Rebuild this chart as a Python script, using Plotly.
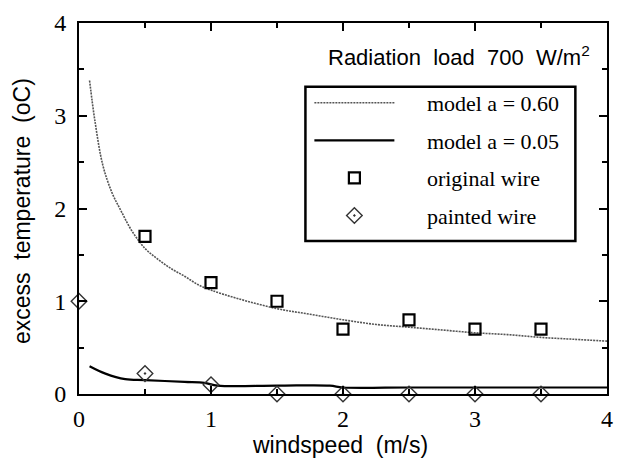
import plotly.graph_objects as go

# Model curves
model060_x = [0.08, 0.12, 0.18, 0.25, 0.32, 0.40, 0.50, 0.60, 0.70, 0.80, 0.90, 1.00, 1.20, 1.50,
              1.75, 2.00, 2.25, 2.50, 2.75, 3.00, 3.25, 3.50, 3.75, 4.00]
model060_y = [3.38, 2.95, 2.47, 2.17, 1.97, 1.76, 1.57, 1.45, 1.35, 1.27, 1.18, 1.12, 1.03, 0.92,
              0.86, 0.80, 0.75, 0.72, 0.69, 0.66, 0.64, 0.61, 0.59, 0.57]
model005_x = [0.08, 0.20, 0.35, 0.50, 0.80, 0.95, 1.05, 1.50, 1.90, 2.00, 2.50, 3.00, 3.50, 4.00]
model005_y = [0.30, 0.22, 0.16, 0.15, 0.13, 0.12, 0.09, 0.09, 0.09, 0.07, 0.07, 0.07, 0.07, 0.07]

# Measurements
orig_x = [0.5, 1.0, 1.5, 2.0, 2.5, 3.0, 3.5]
orig_y = [1.7, 1.2, 1.0, 0.7, 0.8, 0.7, 0.7]
paint_x = [0.0, 0.5, 1.0, 1.5, 2.0, 2.5, 3.0, 3.5]
paint_y = [1.0, 0.22, 0.1, 0.0, 0.0, 0.0, 0.0, 0.0]

tick_vals = [0, 1, 2, 3, 4]
tick_text = ["0", "1", "2", "3", "4"]

pad = "\u00a0" * 5

fig = go.Figure()
fig.add_trace(go.Scatter(x=model060_x, y=model060_y, mode="lines", name=pad + "model a = 0.60",
                         legendgroup="a", line=dict(color="#555555", width=1.6, dash="2px,1px"),
                         line_shape="spline"))
fig.add_trace(go.Scatter(x=model005_x, y=model005_y, mode="lines", name=pad + "model a = 0.05",
                         legendgroup="b", line=dict(color="black", width=2.2), line_shape="spline"))
fig.add_trace(go.Scatter(x=orig_x, y=orig_y, mode="markers", name=pad + "original wire", legendgroup="c",
                         marker=dict(symbol="square-open", size=11, color="black", line=dict(width=2.2)),
                         cliponaxis=False))
fig.add_trace(go.Scatter(x=paint_x, y=paint_y, mode="markers", name=pad + "painted wire", legendgroup="d",
                         marker=dict(symbol="diamond-open-dot", size=12, color="#333333", line=dict(width=1.4)),
                         cliponaxis=False))

axis_common = dict(
    range=[0, 4], showgrid=False, zeroline=False, showline=True, linecolor="black", linewidth=2,
    mirror="allticks", ticks="inside", ticklen=8, tickwidth=2, tickcolor="black",
    tickvals=tick_vals, ticktext=tick_text,
    tickfont=dict(family="Liberation Serif", size=24, color="black"),
    minor=dict(ticks="inside", dtick=0.5, ticklen=5, tickwidth=2, tickcolor="black"),
)
fig.update_xaxes(**axis_common, ticklabelstandoff=2)
fig.update_yaxes(**axis_common, ticklabelstandoff=6)

# Legend frame
fig.add_shape(type="rect", xref="paper", yref="paper",
              x0=(308 - 79) / 534, x1=(581 - 79) / 534,
              y0=(394 - 238) / 378, y1=(394 - 81) / 378,
              line=dict(color="black", width=2.5), fillcolor="white", layer="below")

fig.add_annotation(text="Radiation  load  700  W/m<sup>2</sup>", xref="paper", yref="paper",
                   x=(598 - 79) / 534, y=(394 - 50) / 378, xanchor="right", yanchor="middle",
                   showarrow=False, font=dict(family="Liberation Sans", size=22, color="black"))
fig.add_annotation(text="windspeed  (m/s)", xref="paper", yref="paper",
                   x=(343 - 79) / 534, y=(394 - 446) / 378, xanchor="center", yanchor="middle",
                   showarrow=False, font=dict(family="Liberation Sans", size=23, color="black"))
fig.add_annotation(text="excess  temperature  (oC)", xref="paper", yref="paper",
                   x=(22 - 79) / 534, y=(394 - 208) / 378, xanchor="center", yanchor="middle",
                   textangle=-90, showarrow=False,
                   font=dict(family="Liberation Sans", size=23, color="black"))

fig.update_layout(
    width=623, height=462,
    margin=dict(l=79, r=10, t=16, b=68),
    paper_bgcolor="white", plot_bgcolor="white",
    showlegend=True,
    legend=dict(x=(312 - 79) / 534, y=(394 - 76) / 378, xanchor="left", yanchor="top",
                bgcolor="rgba(0,0,0,0)", borderwidth=0, itemwidth=80, tracegroupgap=6,
                font=dict(family="Liberation Serif", size=22, color="black")),
)

fig.write_html("out.html")
